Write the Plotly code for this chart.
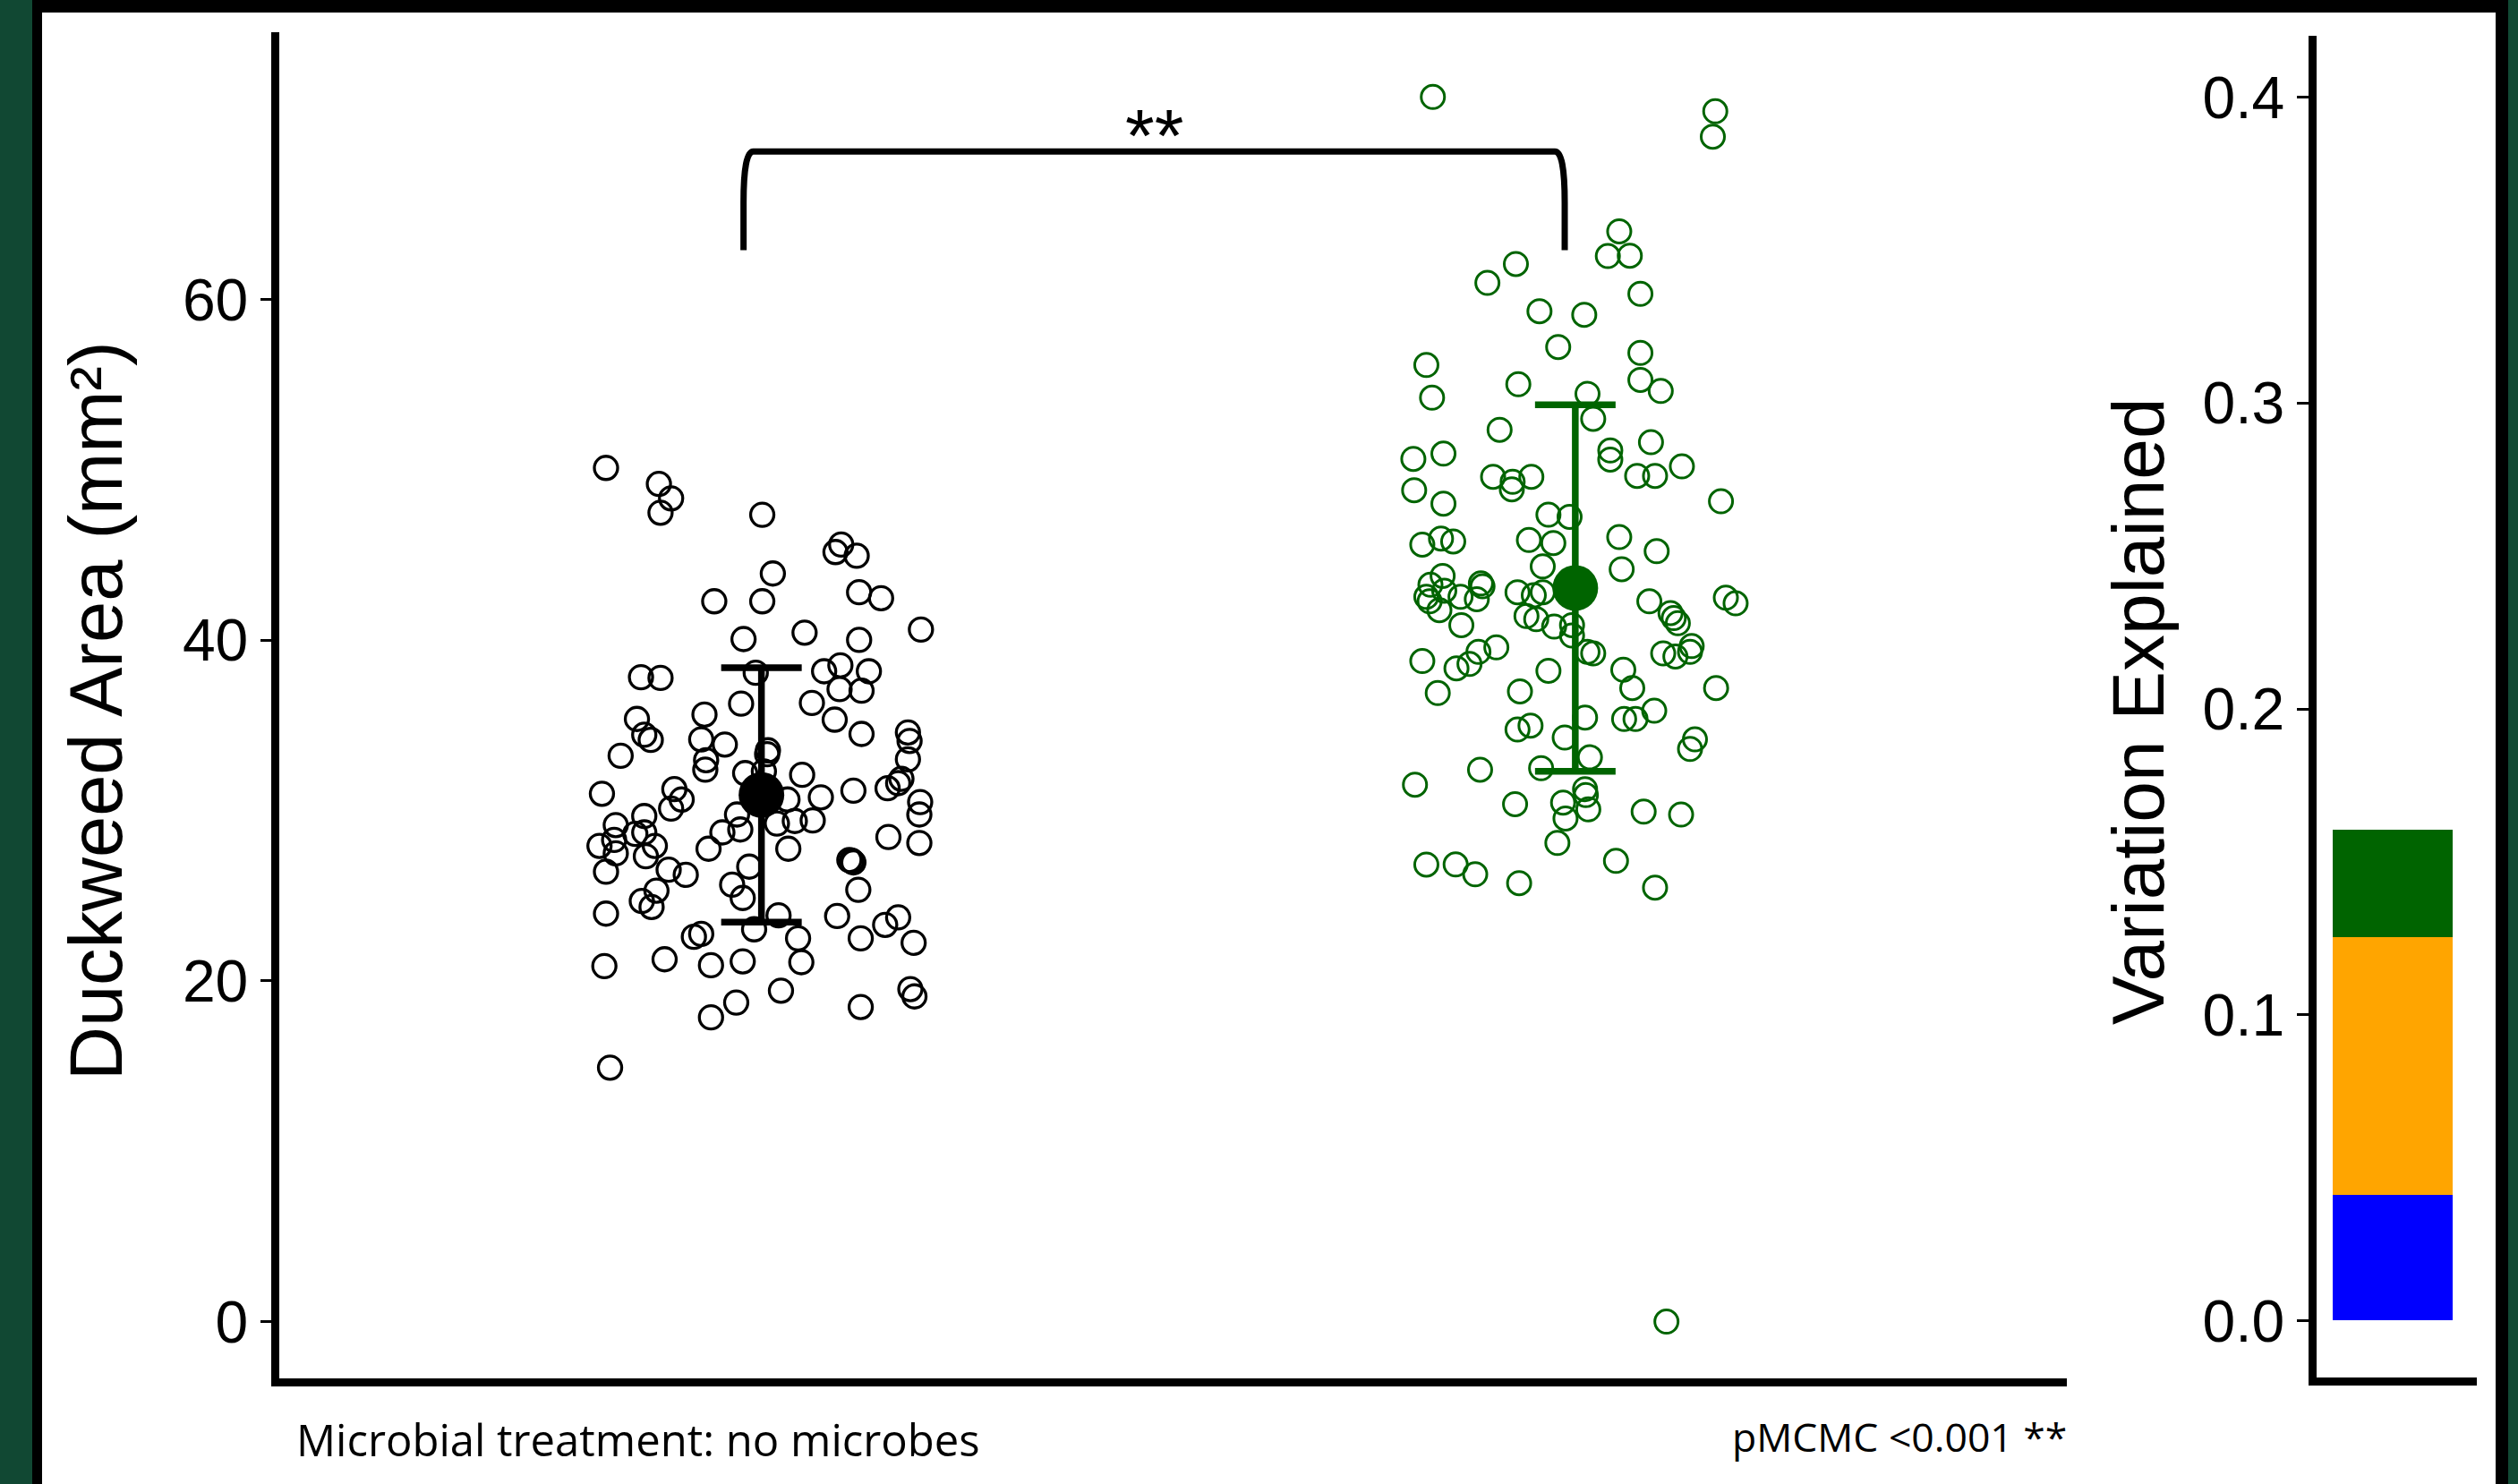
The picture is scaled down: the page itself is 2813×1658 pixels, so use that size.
import plotly.graph_objects as go

# ---------------- data ----------------
groups = ["no microbes", "microbes"]
group_pos = [1, 2]

black_area = [50.12, 49.18, 48.33, 47.49, 47.37, 45.62, 45.18, 44.96, 43.92, 42.82, 42.47, 42.29, 42.29,
              40.63, 40.07, 40.45, 40.02, 38.09, 37.83, 37.79, 38.18, 38.53, 38.18, 37.13, 37.04, 36.28,
              36.32, 35.64, 35.38, 35.34, 34.45, 34.15, 34.18, 33.88, 34.50, 34.59, 34.09, 33.22, 33.54,
              33.31, 32.96, 33.01,
              32.4, 32.2, 32.3, 32.1, 31.87, 31.31, 31.61, 30.50, 29.77, 31.17, 30.99, 31.26, 30.65, 30.12,
              30.65, 30.78, 29.39, 29.24, 29.42, 29.77, 28.89, 28.72, 29.68, 29.15, 28.28, 28.63, 28.72,
              27.93, 27.49, 27.93, 27.32, 27.76, 27.76, 28.45, 28.10, 26.71, 27.05, 26.96, 27.10, 26.41,
              26.53, 26.23, 25.65, 24.87, 25.35, 25.30, 24.69, 24.34, 23.95, 23.85, 23.81, 23.03, 23.73,
              23.29, 22.59, 22.76, 22.50, 22.50, 22.24, 20.87, 21.27, 20.92, 21.15, 21.10, 19.43, 18.73,
              17.86, 18.47, 19.52, 19.09, 14.91]
black_jitter = [-0.191, -0.126, -0.111, -0.124, 0.001, 0.098, 0.091, 0.117, 0.014, 0.120, 0.147, -0.058, 0.001,
                0.196, -0.022, 0.053, 0.120, -0.007, -0.148, -0.124, 0.077, 0.097, 0.132, 0.096, 0.123, -0.025,
                0.062, -0.070, -0.153, 0.090, -0.144, -0.136, -0.074, -0.045, 0.123, 0.180, 0.182, -0.173, 0.008,
                0.007, -0.068, 0.180,
                -0.069, -0.020, 0.003, 0.050, 0.172, 0.155, 0.168, 0.195, 0.194, 0.113, -0.196, -0.107, -0.098, -0.111,
                0.032, 0.073, 0.041, 0.019, 0.063, -0.030, -0.026, -0.048, -0.144, -0.179, -0.181, -0.155, -0.144,
                -0.199, -0.179, -0.131, -0.142, -0.065, 0.033, 0.156, 0.194, -0.015, 0.111, 0.113, 0.108, -0.191,
                -0.114, -0.093, -0.036, -0.023, 0.119, -0.129, -0.147, -0.135, -0.191, 0.021, 0.093, -0.009, 0.168,
                0.152, -0.083, -0.074, 0.045, 0.122, 0.187, -0.193, -0.119, -0.062, -0.023, 0.049, 0.024, -0.031,
                -0.062, 0.122, 0.183, 0.188, -0.186]

green_area = [71.90, 71.06, 69.57, 64.01, 62.56, 62.58, 62.09, 60.98, 60.34, 59.32, 59.11, 57.22, 56.87, 56.16,
              55.29, 54.64, 55.03, 54.24, 54.47, 53.0,
              52.36, 50.65, 50.96, 48.81, 48.02, 49.60, 49.30, 48.86, 49.60, 51.14, 50.61, 51.63, 49.65, 49.65,
              50.21, 48.16, 47.37, 47.25, 45.62, 45.97, 45.80, 45.89, 45.71, 46.06, 45.23, 44.34, 44.17, 43.78,
              43.26, 42.91, 42.55, 42.29, 41.77, 42.55, 43.34, 43.17, 42.41, 40.89, 42.82, 42.64, 42.82, 41.42,
              41.24, 40.80, 40.89, 40.28, 39.23, 39.32, 42.29, 41.6, 41.3, 41.0, 42.50, 42.17, 39.23, 39.05,
              39.32, 39.66, 38.78, 38.35, 38.61, 39.32, 39.58, 38.21, 38.27, 37.2, 37.2, 36.9, 37.0,
              35.46, 34.29, 33.13, 34.76, 34.99, 35.38, 35.38, 35.86, 34.18, 33.62, 32.40, 31.52, 32.49, 30.38,
              30.47, 31.26, 30.91, 30.07, 29.54, 29.94, 29.77, 28.10, 26.83, 26.84, 26.26, 25.74, 27.05, 25.48,
              0.0]
green_jitter = [-0.175, 0.172, 0.169, 0.054, 0.040, 0.067, -0.073, -0.108, 0.080, -0.044, 0.011, -0.021, 0.080, -0.183,
                0.080, 0.105, -0.070, -0.176, 0.015, 0.022,
                -0.093, -0.199, -0.162, -0.198, -0.162, -0.101, -0.077, -0.078, -0.054, 0.043, 0.043, 0.093, 0.076, 0.098,
                0.131, 0.179, -0.033, -0.007, -0.188, -0.165, -0.150, -0.057, -0.027, 0.054, 0.100, -0.040, 0.057, -0.163,
                -0.178, -0.161, -0.183, -0.179, -0.167, -0.141, -0.116, -0.114, -0.121, -0.140, -0.071, -0.051, -0.040, -0.060,
                -0.048, -0.026, -0.004, -0.004, 0.022, 0.015, 0.091, 0.117, 0.121, 0.126, 0.185, 0.197, 0.108, 0.123,
                0.141, 0.143, -0.188, -0.146, -0.130, -0.119, -0.097, -0.033, 0.059, 0.070, 0.173, -0.169, -0.068,
                0.012, -0.013, 0.018, -0.071, -0.055, 0.060, 0.074, 0.097, 0.147, 0.141, -0.117, -0.197, -0.042, -0.074,
                -0.015, 0.012, 0.013, 0.016, -0.012, 0.084, 0.130, -0.022, -0.183, -0.147, -0.123, -0.069, 0.050, 0.098,
                0.112]

group_means = [30.92, 43.07]
group_errors = [7.47, 10.76]

var_names = ["component 1", "component 2", "component 3"]
var_values = [0.041, 0.0845, 0.035]
var_colors = ["#0000FF", "#FFA500", "#006400"]

y_ticks = [0, 20, 40, 60]
y2_ticks = [0.0, 0.1, 0.2, 0.3, 0.4]
y2_ticklabels = ["0.0", "0.1", "0.2", "0.3", "0.4"]

bracket_left, bracket_right = 0.978, 1.987
bracket_top, bracket_bottom = 68.7, 62.9
signif_label = "**"

# ---------------- figure ----------------
W, H = 2813, 1658
BLACK = "#000000"
GREEN = "#006400"
TICKFONT = dict(family="Liberation Sans, Arial", size=66, color=BLACK)

fig = go.Figure()

fig.add_trace(go.Scatter(
    x=[group_pos[0] + j for j in black_jitter], y=black_area, mode="markers",
    marker=dict(symbol="circle-open", size=26, color=BLACK, line=dict(width=3.3, color=BLACK)),
    xaxis="x", yaxis="y", hoverinfo="skip"))
fig.add_trace(go.Scatter(
    x=[group_pos[1] + j for j in green_jitter], y=green_area, mode="markers",
    marker=dict(symbol="circle-open", size=26, color=GREEN, line=dict(width=3.0, color=GREEN)),
    xaxis="x", yaxis="y", hoverinfo="skip"))

for pos, m, e, c in zip(group_pos, group_means, group_errors, [BLACK, GREEN]):
    fig.add_trace(go.Scatter(
        x=[pos], y=[m], mode="markers",
        marker=dict(symbol="circle", size=51, color=c),
        error_y=dict(type="data", array=[e], visible=True, color=c, thickness=7.5, width=45),
        xaxis="x", yaxis="y", hoverinfo="skip"))

for name, v, c in zip(var_names, var_values, var_colors):
    fig.add_trace(go.Bar(x=[0.49], y=[v], width=[0.73], marker=dict(color=c, line=dict(width=0)),
                         name=name, xaxis="x2", yaxis="y2", hoverinfo="skip"))

# significance bracket
dx, dy = 0.012, 3.0
L, R, T, B = bracket_left, bracket_right, bracket_top, bracket_bottom
path = (f"M {L},{B} L {L},{T-dy} Q {L},{T} {L+dx},{T} L {R-dx},{T} "
        f"Q {R},{T} {R},{T-dy} L {R},{B}")
shapes = [dict(type="path", path=path, xref="x", yref="y", line=dict(color=BLACK, width=7))]

# frame around the slide
FRAME_GREEN = "#114833"
def prect(x0, x1, y0, y1, col):
    return dict(type="rect", xref="paper", yref="paper", x0=x0 / W, x1=x1 / W,
                y0=1 - y1 / H, y1=1 - y0 / H, fillcolor=col, line=dict(width=0), layer="above")
shapes += [prect(0, 36, 0, H, FRAME_GREEN), prect(36, 47, 0, H, BLACK),
           prect(36, 2802, 0, 14, BLACK), prect(2788, 2802, 0, H, BLACK),
           prect(2802, W, 0, H, FRAME_GREEN)]

annotations = [
    dict(text="Duckweed Area (mm²)", xref="paper", yref="paper", x=107 / W, y=1 - 794 / H,
         textangle=-90, showarrow=False, xanchor="center", yanchor="middle",
         font=dict(family="Liberation Sans, Arial", size=83, color=BLACK)),
    dict(text="Variation Explained", xref="paper", yref="paper", x=2389 / W, y=1 - 795 / H,
         textangle=-90, showarrow=False, xanchor="center", yanchor="middle",
         font=dict(family="Liberation Sans, Arial", size=82, color=BLACK)),
    dict(text="Microbial treatment: no microbes", xref="paper", yref="paper", x=329 / W, y=1 - 1608 / H,
         showarrow=False, xanchor="left", yanchor="middle",
         font=dict(family="Open Sans", size=49, color=BLACK)),
    dict(text="pMCMC <0.001 **", xref="paper", yref="paper", x=2311 / W, y=1 - 1604 / H,
         showarrow=False, xanchor="right", yanchor="middle",
         font=dict(family="Open Sans", size=44.5, color=BLACK)),
    dict(text=signif_label, xref="x", yref="y", x=(L + R) / 2, y=69.6,
         showarrow=False, xanchor="center", yanchor="middle",
         font=dict(family="Liberation Sans, Arial", size=84, color=BLACK)),
]

fig.update_layout(
    width=W, height=H, margin=dict(l=0, r=0, t=0, b=0),
    paper_bgcolor="white", plot_bgcolor="white", showlegend=False, barmode="stack",
    shapes=shapes, annotations=annotations,
    xaxis=dict(domain=[311.5 / W, 2309 / W], range=[0.407, 2.604], showline=True, linewidth=9,
               linecolor=BLACK, showticklabels=False, ticks="", showgrid=False, zeroline=False,
               automargin=False, fixedrange=True),
    yaxis=dict(domain=[1 - 1539.5 / H, 1 - 36 / H], range=[-3.31, 75.7], showline=True, linewidth=9,
               linecolor=BLACK, ticks="outside", ticklen=12, tickwidth=3, tickcolor=BLACK,
               tickvals=y_ticks, tickfont=TICKFONT, showgrid=False, zeroline=False,
               automargin=False),
    xaxis2=dict(domain=[2587.5 / W, 2767 / W], range=[0.0245, 1], anchor="y2", showline=True, linewidth=9,
                linecolor=BLACK, showticklabels=False, ticks="", showgrid=False, zeroline=False,
                automargin=False),
    yaxis2=dict(domain=[1 - 1538.5 / H, 1 - 40 / H], range=[-0.01844, 0.4201], anchor="x2", showline=True,
                linewidth=9, linecolor=BLACK, ticks="outside", ticklen=13, tickwidth=3, tickcolor=BLACK,
                tickvals=y2_ticks, ticktext=y2_ticklabels, tickfont=TICKFONT, showgrid=False,
                zeroline=False, automargin=False),
)

fig.write_html("out.html", config={"displayModeBar": False},
               post_script="document.body.style.margin='0px';document.body.style.padding='0px';"
                           "document.body.style.overflow='hidden';")
